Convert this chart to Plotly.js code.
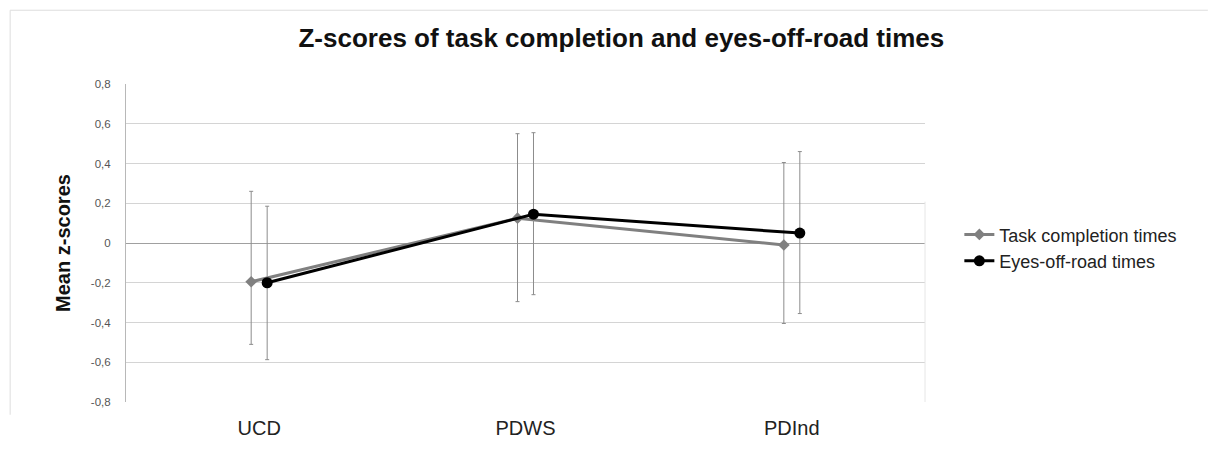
<!DOCTYPE html>
<html>
<head>
<meta charset="utf-8">
<script src="https://cdn.plot.ly/plotly-3.0.1.min.js"></script>
<style>
html,body{margin:0;padding:0;background:#fff;}
#chart{width:1216px;height:454px;}
</style>
</head>
<body>
<div id="chart"></div>
<script>
const categories = ['UCD', 'PDWS', 'PDInd'];

const taskValues = [-0.195, 0.125, -0.01];
const taskErrPlus = [0.455, 0.425, 0.415];
const taskErrMinus = [0.315, 0.42, 0.395];

const eyesValues = [-0.2, 0.145, 0.05];
const eyesErrPlus = [0.385, 0.41, 0.41];
const eyesErrMinus = [0.387, 0.405, 0.405];

const yTickVals = [-0.8, -0.6, -0.4, -0.2, 0, 0.2, 0.4, 0.6, 0.8];
const yTickText = ['-0,8', '-0,6', '-0,4', '-0,2', '0', '0,2', '0,4', '0,6', '0,8'];

const traces = [
  {
    type: 'scatter', mode: 'lines+markers',
    name: 'Task completion times',
    x: categories, y: taskValues,
    offsetgroup: 'task',
    line: {color: '#808080', width: 3},
    marker: {symbol: 'diamond', size: 9, color: '#808080'},
    error_y: {type: 'data', symmetric: false, array: taskErrPlus, arrayminus: taskErrMinus,
              color: '#8c8c8c', thickness: 1, width: 2}
  },
  {
    type: 'scatter', mode: 'lines+markers',
    name: 'Eyes-off-road times',
    x: categories, y: eyesValues,
    offsetgroup: 'eyes',
    line: {color: '#000000', width: 3},
    marker: {symbol: 'circle', size: 11, color: '#000000'},
    error_y: {type: 'data', symmetric: false, array: eyesErrPlus, arrayminus: eyesErrMinus,
              color: '#8c8c8c', thickness: 1, width: 2}
  }
];

const layout = {
  width: 1216, height: 454,
  paper_bgcolor: '#ffffff', plot_bgcolor: '#ffffff',
  margin: {l: 126, r: 291, t: 84, b: 52, pad: 0},
  font: {family: 'Liberation Sans, Arial, sans-serif', color: '#333333'},
  scattermode: 'group',
  scattergap: 0.88,
  title: {
    text: 'Z-scores of task completion and eyes-off-road times',
    font: {family: 'Liberation Sans, Arial, sans-serif', size: 26, color: '#111111', weight: 'bold'},
    x: 0.511, xanchor: 'center', xref: 'container',
    y: 0.916, yanchor: 'middle', yref: 'container'
  },
  xaxis: {
    type: 'category',
    showgrid: false, zeroline: false, showline: false,
    ticks: '', ticklen: 0,
    tickfont: {size: 20, color: '#222222'},
    ticklabelstandoff: 12,
    automargin: false
  },
  yaxis: {
    range: [-0.8, 0.8],
    tickvals: yTickVals, ticktext: yTickText,
    tickfont: {size: 11.5, color: '#555555'},
    showgrid: true, gridcolor: '#d4d4d4', gridwidth: 1,
    zeroline: true, zerolinecolor: '#a0a0a0', zerolinewidth: 1,
    showline: true, linecolor: '#b8b8b8', linewidth: 1,
    ticks: '', ticklabelstandoff: 12,
    title: {text: 'Mean z-scores', font: {size: 20, color: '#111111', weight: 'bold'}, standoff: 14},
    automargin: false
  },
  legend: {
    x: 1.043, xanchor: 'left', y: 0.485, yanchor: 'middle',
    font: {size: 18, color: '#222222'},
    bgcolor: 'rgba(0,0,0,0)',
    tracegroupgap: 0, itemwidth: 30
  },
  shapes: [
    {type: 'line', xref: 'paper', yref: 'paper', x0: -0.145, x1: 1.354, y0: 1.232, y1: 1.232,
     line: {color: '#dddddd', width: 1}},
    {type: 'line', xref: 'paper', yref: 'paper', x0: -0.145, x1: -0.145, y0: -0.04, y1: 1.232,
     line: {color: '#dddddd', width: 1}},
    {type: 'line', xref: 'paper', yref: 'paper', x0: 1, x1: 1, y0: 0, y1: 0.63,
     line: {color: '#e6e6e6', width: 1}}
  ]
};

Plotly.newPlot('chart', traces, layout, {displayModeBar: false, staticPlot: true});
</script>
</body>
</html>
